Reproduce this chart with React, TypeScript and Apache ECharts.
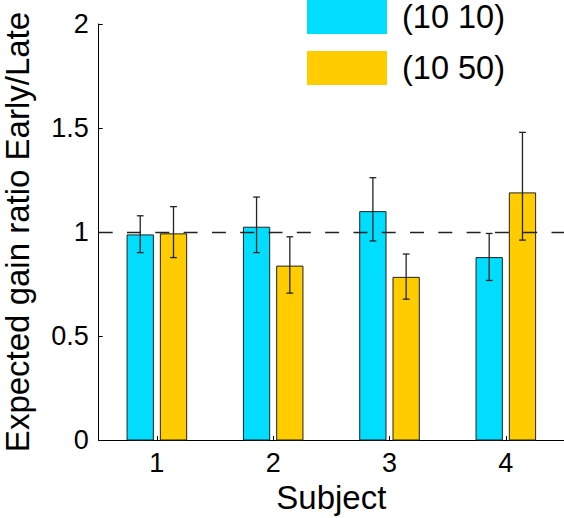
import React, { useEffect, useRef } from "react";
import * as echarts from "echarts";

const categories = ["1", "2", "3", "4"];
const seriesNames = ["(10 10)", "(10 50)"];
const ratio1010 = [0.986, 1.023, 1.098, 0.877];
const low1010 = [0.901, 0.901, 0.957, 0.767];
const high1010 = [1.078, 1.168, 1.261, 0.993];
const ratio1050 = [0.991, 0.836, 0.782, 1.188];
const low1050 = [0.877, 0.706, 0.677, 0.961];
const high1050 = [1.122, 0.977, 0.894, 1.479];
const yTicks = [0, 0.5, 1, 1.5, 2];
const referenceLevel = 1;

const FONT = "'Liberation Sans', Arial, Helvetica, sans-serif";
const CYAN = "#00DDFF";
const GOLD = "#FFCC00";
const EDGE = "#222222";

function makeRender(offset: number, widthFrac: number, color: string) {
  return (params: any, api: any) => {
    const ci = api.value(0);
    const v = api.value(1);
    const lo = api.value(2);
    const hi = api.value(3);
    const band = api.size([1, 0])[0];
    const base = api.coord([ci, 0]);
    const cx = base[0] + offset * band;
    const w = widthFrac * band;
    const yTop = api.coord([ci, v])[1];
    const yLo = api.coord([ci, lo])[1];
    const yHi = api.coord([ci, hi])[1];
    const cap = 3.4;
    const errStyle = { stroke: EDGE, lineWidth: 1.3 };
    return {
      type: "group",
      children: [
        {
          type: "rect",
          shape: { x: cx - w / 2, y: yTop, width: w, height: base[1] - yTop },
          style: { fill: color, stroke: EDGE, lineWidth: 1 },
        },
        { type: "line", shape: { x1: cx, y1: yHi, x2: cx, y2: yLo }, style: errStyle },
        { type: "line", shape: { x1: cx - cap, y1: yHi, x2: cx + cap, y2: yHi }, style: errStyle },
        { type: "line", shape: { x1: cx - cap, y1: yLo, x2: cx + cap, y2: yLo }, style: errStyle },
      ],
    };
  };
}

export default function App() {
  const ref = useRef<HTMLDivElement>(null);
  useEffect(() => {
    if (!ref.current) return;
    const chart = echarts.init(ref.current, null, { renderer: "svg" });
    const d1 = categories.map((_, i) => [i, ratio1010[i], low1010[i], high1010[i]]);
    const d2 = categories.map((_, i) => [i, ratio1050[i], low1050[i], high1050[i]]);
    chart.setOption({
      animation: false,
      backgroundColor: "#ffffff",
      textStyle: { fontFamily: FONT },
      legend: {
        data: seriesNames,
        orient: "vertical",
        left: 307,
        top: 0,
        padding: 0,
        itemWidth: 80,
        itemHeight: 34,
        itemGap: 17,
        icon: "rect",
        itemStyle: { borderWidth: 0 },
        textStyle: { fontSize: 32.5, color: "#000", fontFamily: FONT, padding: [0, 0, 0, 10] },
        selectedMode: false,
      },
      grid: {
        left: 98.7,
        right: 0,
        top: 24,
        bottom: 78,
        containLabel: false,
        outerBoundsMode: "none",
      },
      xAxis: {
        type: "category",
        data: categories,
        boundaryGap: true,
        name: "Subject",
        nameLocation: "middle",
        nameGap: 40,
        nameTextStyle: { fontSize: 33, color: "#000", fontFamily: FONT },
        axisLine: { show: true, lineStyle: { color: "#000", width: 1 } },
        axisTick: { show: true, inside: true, alignWithLabel: true, length: 4, lineStyle: { color: "#000" } },
        axisLabel: { fontSize: 27, color: "#000", margin: 9, fontFamily: FONT },
        splitLine: { show: false },
      },
      yAxis: {
        type: "value",
        min: yTicks[0],
        max: yTicks[yTicks.length - 1],
        interval: 0.5,
        name: "Expected gain ratio Early/Late",
        nameLocation: "middle",
        nameGap: 65,
        nameTextStyle: { fontSize: 33, color: "#000", fontFamily: FONT },
        axisLine: { show: true, lineStyle: { color: "#000", width: 1 } },
        axisTick: { show: true, inside: true, length: 4, lineStyle: { color: "#000" } },
        axisLabel: { fontSize: 27, color: "#000", margin: 10, fontFamily: FONT },
        splitLine: { show: false },
      },
      series: [
        {
          name: seriesNames[0],
          type: "custom",
          renderItem: makeRender(-0.143, 0.226, CYAN),
          itemStyle: { color: CYAN },
          encode: { x: 0, y: 1 },
          data: d1,
          z: 2,
        },
        {
          name: seriesNames[1],
          type: "custom",
          renderItem: makeRender(0.143, 0.226, GOLD),
          itemStyle: { color: GOLD },
          encode: { x: 0, y: 1 },
          data: d2,
          z: 2,
        },
        {
          name: "reference",
          type: "line",
          data: [],
          silent: true,
          z: 3,
          markLine: {
            silent: true,
            symbol: ["none", "none"],
            label: { show: false },
            lineStyle: { type: [14, 14.3], color: "#222", width: 1.3 },
            data: [{ yAxis: referenceLevel }],
          },
        },
      ],
    });
    return () => chart.dispose();
  }, []);
  return (
    <div
      ref={ref}
      style={{ position: "fixed", left: 0, top: 0, width: 564, height: 518 }}
    />
  );
}
